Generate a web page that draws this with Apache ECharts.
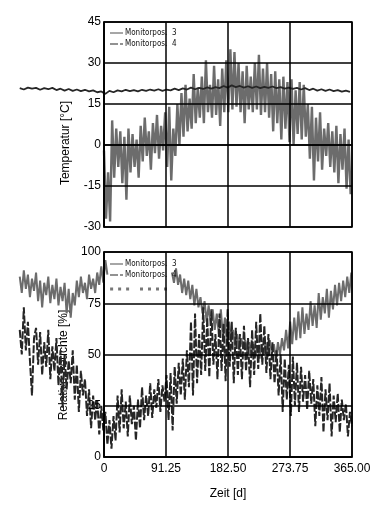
<!DOCTYPE html>
<html><head><meta charset="utf-8">
<script src="https://cdn.jsdelivr.net/npm/echarts@6/dist/echarts.min.js"></script>
<style>html,body{margin:0;padding:0;background:#fff}#c{width:387px;height:506px}</style>
</head><body><div id="c"></div>
<script>
// ---- ticks / labels ----
const xTicks = [0, 91.25, 182.5, 273.75, 365];
const tempRange = [-30, 45], tempInterval = 15;
const humRange = [0, 100], humInterval = 25;
const seriesNames = ['Monitorpos.  3', 'Monitorpos.  4'];
const xName = 'Zeit [d]';
const tempName = 'Temperatur [°C]';
const humName = 'Relative Feuchte [%]';

// ---- Temperatur, Monitorpos. 3 (start day 0, step 3 d) ----
const temp3Start = 0, temp3Step = 3;
const temp3 = [
  -2,-27,-10,-28,9,-12,6,-8,5,-14,
  3,-20,6,-10,4,-8,2,-12,7,-6,
  10,-4,5,-9,8,-3,11,-5,7,-2,
  12,-8,14,-13,6,-4,15,0,19,3,
  22,5,17,6,26,8,21,10,25,8,
  31,12,22,10,29,11,24,7,28,12,
  31,12,35,13,34,14,30,12,27,8,
  29,13,25,12,30,13,33,11,28,12,
  30,10,26,5,27,8,24,2,25,6,
  23,1,24,0,20,4,23,2,22,3,
  15,-5,14,-13,10,-6,12,-9,6,-4,
  8,-8,5,-10,7,-14,4,-9,6,-16,
  2,-18
];
// ---- Temperatur, Monitorpos. 4 (start day -124, step 6 d) ----
const temp4Start = -124, temp4Step = 6;
const temp4 = [
  20.8,20.3,21.0,20.6,20.9,20.2,20.8,20.4,20.9,20.1,
  20.6,19.9,20.5,19.8,20.3,19.7,20.2,19.6,20.0,19.3,
  19.6,18.7,19.8,19.3,20.0,19.6,20.2,19.7,20.1,19.6,
  20.2,19.8,20.3,19.9,20.4,19.8,20.3,20.0,20.6,20.1,
  20.7,20.3,21.0,20.4,20.9,20.5,21.1,20.6,21.2,20.8,
  21.6,21.0,21.8,21.2,21.6,21.0,21.5,20.9,21.4,20.8,
  21.3,20.9,21.4,20.8,21.2,20.6,21.0,20.5,20.9,20.3,
  20.8,20.1,20.6,19.9,20.4,19.8,20.3,19.7,20.1,19.5,
  19.9,19.4
];
// ---- Relative Feuchte, Monitorpos. 3: part A (start -124, step 3) ----
const hum3aStart = -124, hum3aStep = 3;
const hum3a = [
  88,80,91,82,89,78,87,81,90,76,
  86,73,85,79,88,75,84,77,87,74,
  83,76,85,70,82,68,80,74,86,78,
  88,80,85,77,89,82,87,80,90,84,
  93,85,96,89
];
// ---- Relative Feuchte, Monitorpos. 3: part B (start 100, step 3) ----
const hum3bStart = 100, hum3bStep = 3;
const hum3b = [
  90,85,92,84,89,80,87,79,86,77,
  84,74,82,73,78,70,76,66,74,64,
  72,62,70,60,72,58,68,55,66,56,
  62,54,60,52,58,53,57,51,56,50,
  55,49,54,48,55,50,56,49,57,51,
  55,48,56,50,58,52,62,53,66,55,
  68,57,71,58,73,60,70,62,76,64,
  74,63,80,67,78,70,82,68,81,72,
  84,74,85,76,86,78,88,80,90
];
// ---- Relative Feuchte, Monitorpos. 4 (start -124, step 3) ----
const hum4Start = -124, hum4Step = 3;
const hum4 = [
  62,50,73,52,66,47,30,58,63,45,
  61,40,56,44,62,38,54,42,58,35,
  52,24,50,33,47,36,52,28,45,22,
  42,30,38,20,33,14,30,18,28,11,
  25,13,22,6,18,4,20,8,30,12,
  33,14,27,10,30,16,25,8,28,14,
  34,18,30,20,36,19,33,24,38,22,
  35,27,40,18,41,13,44,26,46,30,
  48,28,52,34,66,30,70,36,60,40,
  73,42,68,39,72,45,60,38,70,42,
  65,37,72,44,66,36,63,40,60,38,
  64,42,58,34,62,40,66,43,70,45,
  64,41,60,38,56,36,52,30,50,22,
  48,28,45,20,49,25,46,22,44,27,
  40,23,42,26,38,15,35,20,39,12,
  33,18,36,10,30,17,31,12,28,18,
  26,10,22,15
];
// ---- fragment of dashed trace in the humidity panel ----
const fragDays = [9, 37, 53, 97];
const fragValue = 82;

const FONT = '"Liberation Sans",Arial,sans-serif';
const FONT_SMALL = '"DejaVu Sans Condensed","Liberation Sans",sans-serif';
function pairs(start, step, vals) { return vals.map((v, i) => [start + i * step, v]); }

const X0 = 104, X1 = 352, HIDDEN_MIN = -124;
const hiddenLeft = X0 + HIDDEN_MIN * (X1 - X0) / 365;
const panels = [{top: 22, bottom: 506 - 227}, {top: 252, bottom: 506 - 457}];

const chart = echarts.init(document.getElementById('c'), null, {renderer: 'canvas'});
const gridLine = {show: true, lineStyle: {color: '#000', width: 1.5}};
const C3 = '#6c6c6c', C4 = '#262626';
const ICON_SOLID = 'rect';
const ICON_DASH = 'path://M0,0h8v1h-8z M10,0h3v1h-3z';

function legendFor(top) {
  return {orient: 'vertical', left: 110, top: top, itemWidth: 13, itemHeight: 1.2, itemGap: 3, padding: 0,
    selectedMode: false, textStyle: {fontFamily: FONT_SMALL, fontSize: 8, color: '#111', padding: [0, 0, 0, -3]},
    data: [{name: seriesNames[0], icon: ICON_SOLID}, {name: seriesNames[1], icon: ICON_DASH}]};
}
const tickLabel = {color: '#000', fontFamily: FONT, fontSize: 12};

const option = {
  animation: false,
  backgroundColor: '#fff',
  grid: [
    {left: X0, right: 387 - X1, top: panels[0].top, bottom: panels[0].bottom, show: true, borderColor: '#000', borderWidth: 1.5, backgroundColor: 'transparent', z: 5},
    {left: X0, right: 387 - X1, top: panels[1].top, bottom: panels[1].bottom, show: true, borderColor: '#000', borderWidth: 1.5, backgroundColor: 'transparent', z: 5},
    {left: hiddenLeft, right: 387 - X1, top: panels[0].top, bottom: panels[0].bottom},
    {left: hiddenLeft, right: 387 - X1, top: panels[1].top, bottom: panels[1].bottom}
  ],
  xAxis: [
    {type: 'value', gridIndex: 0, min: xTicks[0], max: xTicks[4], interval: xTicks[1], z: 5,
     axisLine: {lineStyle: {color: '#000', width: 1.5}}, axisTick: {show: false}, axisLabel: {show: false}, splitLine: gridLine},
    {type: 'value', gridIndex: 1, min: xTicks[0], max: xTicks[4], interval: xTicks[1], z: 5,
     axisLine: {lineStyle: {color: '#000', width: 1.5}}, axisTick: {show: false}, splitLine: gridLine,
     axisLabel: Object.assign({margin: 6, formatter: v => v === 0 ? '0' : v.toFixed(2)}, tickLabel),
     name: xName, nameLocation: 'middle', nameGap: 31, nameTextStyle: {color: '#000', fontFamily: FONT, fontSize: 12}},
    {type: 'value', gridIndex: 2, min: HIDDEN_MIN, max: 365, show: false},
    {type: 'value', gridIndex: 3, min: HIDDEN_MIN, max: 365, show: false}
  ],
  yAxis: [
    {type: 'value', gridIndex: 0, min: tempRange[0], max: tempRange[1], interval: tempInterval, z: 5,
     axisLine: {lineStyle: {color: '#000', width: 1.5}}, axisTick: {show: false}, splitLine: gridLine,
     axisLabel: Object.assign({margin: 3}, tickLabel)},
    {type: 'value', gridIndex: 1, min: humRange[0], max: humRange[1], interval: humInterval, z: 5,
     axisLine: {lineStyle: {color: '#000', width: 1.5}}, axisTick: {show: false}, splitLine: gridLine,
     axisLabel: Object.assign({margin: 3}, tickLabel)},
    {type: 'value', gridIndex: 2, min: tempRange[0], max: tempRange[1], show: false},
    {type: 'value', gridIndex: 3, min: humRange[0], max: humRange[1], show: false}
  ],
  legend: [legendFor(29), legendFor(260)],
  graphic: [
    {type: 'text', x: 66, y: 143, rotation: Math.PI / 2, z: 0,
     style: {text: tempName, fontFamily: FONT, fontSize: 12, fill: '#000', align: 'center', verticalAlign: 'middle'}},
    {type: 'text', x: 64, y: 365, rotation: Math.PI / 2, z: 0,
     style: {text: humName, fontFamily: FONT, fontSize: 12, fill: '#000', align: 'center', verticalAlign: 'middle'}}
  ],
  series: [
    {name: seriesNames[0], type: 'line', xAxisIndex: 2, yAxisIndex: 2, showSymbol: false, symbol: 'none', z: 2,
     lineStyle: {color: C3, width: 2.4}, itemStyle: {color: C3}, data: pairs(temp3Start, temp3Step, temp3)},
    {name: seriesNames[1], type: 'line', xAxisIndex: 2, yAxisIndex: 2, showSymbol: false, symbol: 'none', z: 3,
     lineStyle: {color: C4, width: 1.8}, itemStyle: {color: C4}, data: pairs(temp4Start, temp4Step, temp4)},
    {name: seriesNames[0], type: 'line', xAxisIndex: 3, yAxisIndex: 3, showSymbol: false, symbol: 'none', z: 2,
     lineStyle: {color: C3, width: 2}, itemStyle: {color: C3}, data: pairs(hum3aStart, hum3aStep, hum3a)},
    {name: seriesNames[0], type: 'line', xAxisIndex: 3, yAxisIndex: 3, showSymbol: false, symbol: 'none', z: 2,
     lineStyle: {color: C3, width: 2}, itemStyle: {color: C3}, data: pairs(hum3bStart, hum3bStep, hum3b)},
    {name: seriesNames[1], type: 'line', xAxisIndex: 3, yAxisIndex: 3, showSymbol: false, symbol: 'none', z: 3,
     lineStyle: {color: C4, width: 2, type: [8, 2]}, itemStyle: {color: C4}, data: pairs(hum4Start, hum4Step, hum4)},
    {name: 'fragment', type: 'line', xAxisIndex: 3, yAxisIndex: 3, showSymbol: false, symbol: 'none', z: 2,
     lineStyle: {color: '#777', width: 3, type: [3, 5]},
     data: [[fragDays[0], fragValue], [fragDays[1], fragValue], '-', [fragDays[2], fragValue], [fragDays[3], fragValue]]}
  ]
};
chart.setOption(option);
</script></body></html>
